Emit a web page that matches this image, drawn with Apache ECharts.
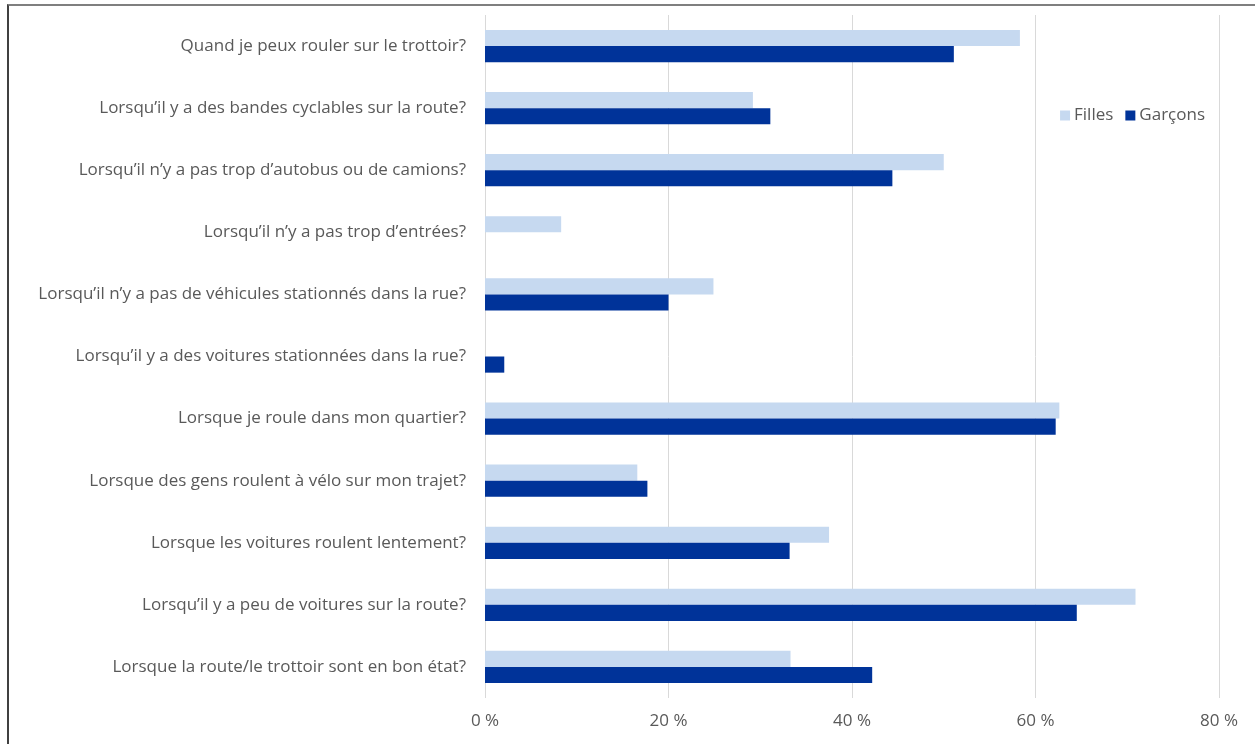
<!DOCTYPE html>
<html>
<head>
<meta charset="utf-8">
<script src="https://cdn.jsdelivr.net/npm/echarts@6/dist/echarts.min.js"></script>
<style>
html, body { margin: 0; padding: 0; background: #fff; }
#frame { position: absolute; left: 7px; top: 4px; width: 1248px; height: 740px; border-top: 2px solid #7f7f7f; border-left: 2px solid #404040; box-sizing: border-box; }
#chart { position: absolute; left: 0; top: 0; width: 1255px; height: 744px; }
</style>
</head>
<body>
<div id="frame"></div>
<div id="chart"></div>
<script>
const categories = [
  "Quand je peux rouler sur le trottoir?",
  "Lorsqu\u2019il y a des bandes cyclables sur la route?",
  "Lorsqu\u2019il n\u2019y a pas trop d\u2019autobus ou de camions?",
  "Lorsqu\u2019il n\u2019y a pas trop d\u2019entr\u00e9es?",
  "Lorsqu\u2019il n\u2019y a pas de v\u00e9hicules stationn\u00e9s dans la rue?",
  "Lorsqu\u2019il y a des voitures stationn\u00e9es dans la rue?",
  "Lorsque je roule dans mon quartier?",
  "Lorsque des gens roulent \u00e0 v\u00e9lo sur mon trajet?",
  "Lorsque les voitures roulent lentement?",
  "Lorsqu\u2019il y a peu de voitures sur la route?",
  "Lorsque la route/le trottoir sont en bon \u00e9tat?"
];
const filles = [58.3, 29.2, 50.0, 8.3, 24.9, 0, 62.6, 16.6, 37.5, 70.9, 33.3];
const garcons = [51.1, 31.1, 44.4, 0, 20.0, 2.1, 62.2, 17.7, 33.2, 64.5, 42.2];
const xTicks = [0, 20, 40, 60, 80];

const chart = echarts.init(document.getElementById('chart'), null, { renderer: 'canvas' });
const font = '"Open Sans", "Liberation Sans", Arial, sans-serif';
chart.setOption({
  backgroundColor: 'transparent',
  animation: false,
  textStyle: { fontFamily: font },
  legend: {
    right: 45, top: 102, orient: 'horizontal',
    itemWidth: 10, itemHeight: 10, itemGap: 12,
    icon: 'rect',
    textStyle: { color: '#595959', fontSize: 17, fontFamily: font, padding: [0, 0, 0, -1] },
    data: ['Filles', 'Gar\u00e7ons']
  },
  grid: { left: 485, right: 36, top: 15, bottom: 46, containLabel: false },
  xAxis: {
    type: 'value', min: xTicks[0], max: xTicks[xTicks.length - 1], interval: 20,
    axisLine: { show: false }, axisTick: { show: false },
    splitLine: { show: true, lineStyle: { color: '#d9d9d9', width: 1 } },
    axisLabel: { color: '#595959', fontSize: 17, fontFamily: font, margin: 15, formatter: v => v + ' %' }
  },
  yAxis: {
    type: 'category', data: categories, inverse: true,
    axisLine: { show: false }, axisTick: { show: false },
    axisLabel: { color: '#595959', fontSize: 17, fontFamily: font, margin: 19 }
  },
  series: [
    { name: 'Filles', type: 'bar', data: filles, barGap: '0%', barCategoryGap: '48%',
      itemStyle: { color: '#c6d9f0' } },
    { name: 'Gar\u00e7ons', type: 'bar', data: garcons,
      itemStyle: { color: '#003399' } }
  ]
});
</script>
</body>
</html>
